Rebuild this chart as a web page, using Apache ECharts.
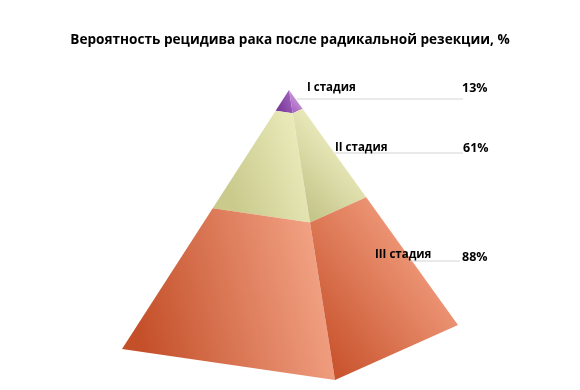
<!DOCTYPE html>
<html>
<head>
<meta charset="utf-8">
<script src="https://cdn.jsdelivr.net/npm/echarts@6/dist/echarts.min.js"></script>
<style>
html,body{margin:0;padding:0;background:#fff;}
#main{width:580px;height:390px;}
</style>
</head>
<body>
<div id="main"></div>
<script>
// ---- data ----
var titleText = 'Вероятность рецидива рака после радикальной резекции, %';
var categories = ['I стадия', 'II стадия', 'III стадия'];
var values = [13, 61, 88];
var valueLabels = ['13%', '61%', '88%'];

// ---- style / layout ----
var leftColors = [['#7e3f9c', '#a868c4'], ['#c9ca8c', '#f1f1c4'], ['#c4502a', '#f8ad90']];
var rightColors = [['#a463c0', '#d6a6e0'], ['#c3c487', '#f8f8d0'], ['#c8522c', '#f9ac8e']];
var apex = [289, 90];
var cornerL = [122, 349];
var cornerF = [335, 380];
var cornerR = [458, 325];
var labelPos = [[307, 88], [335, 148], [375, 255]];
var valuePos = [[462, 88], [463, 148], [462, 257]];
var linePos = [[297, 463, 99], [335, 463, 153], [410, 460, 261]];

var total = values.reduce(function (a, b) { return a + b; }, 0);
var cum = [];
var acc = 0;
values.forEach(function (v) { cum.push([acc / total, (acc + v) / total]); acc += v; });

function pt(corner, t) {
  return [apex[0] + (corner[0] - apex[0]) * t, apex[1] + (corner[1] - apex[1]) * t];
}

var chart = echarts.init(document.getElementById('main'), null, { renderer: 'canvas' });
var option = {
  backgroundColor: '#ffffff',
  animation: false,
  title: {
    text: titleText,
    left: 'center',
    top: 28,
    textStyle: { fontFamily: 'Open Sans', fontWeight: 'bold', fontSize: 13.6, color: '#000' }
  },
  grid: { left: 0, right: 0, top: 0, bottom: 0 },
  xAxis: { type: 'value', min: 0, max: 580, show: false },
  yAxis: { type: 'value', min: 0, max: 390, inverse: true, show: false },
  series: [{
    type: 'custom',
    data: values.map(function (v, i) { return [i, v]; }),
    renderItem: function (params, api) {
      var i = api.value(0);
      var t0 = cum[i][0], t1 = cum[i][1];
      var c = function (p) { return api.coord(p); };
      var leftPoly = [pt(cornerL, t0), pt(cornerF, t0), pt(cornerF, t1), pt(cornerL, t1)].map(c);
      var rightPoly = [pt(cornerF, t0), pt(cornerR, t0), pt(cornerR, t1), pt(cornerF, t1)].map(c);
      var lc = leftColors[i], rc = rightColors[i];
      var lp = labelPos[i], vp = valuePos[i], ln = linePos[i];
      var a = c([ln[0], ln[2]]), b = c([ln[1], ln[2]]);
      var lpp = c(lp), vpp = c(vp);
      return {
        type: 'group',
        children: [
          {
            type: 'polygon',
            shape: { points: leftPoly },
            style: {
              fill: new echarts.graphic.LinearGradient(0, 0.3, 1, 0, [
                { offset: 0, color: lc[0] }, { offset: 1, color: lc[1] }
              ])
            }
          },
          {
            type: 'polygon',
            shape: { points: rightPoly },
            style: {
              fill: new echarts.graphic.LinearGradient(0, 0.8, 1, 0.2, [
                { offset: 0, color: rc[0] }, { offset: 1, color: rc[1] }
              ])
            }
          },
          {
            type: 'line',
            shape: { x1: a[0], y1: a[1], x2: b[0], y2: b[1] },
            style: { stroke: '#d4d4d4', lineWidth: 1 },
            z2: 5
          },
          {
            type: 'text',
            x: lpp[0], y: lpp[1],
            style: {
              text: categories[i], fontFamily: 'Open Sans', fontWeight: 'bold',
              fontSize: 11.5, fill: '#000', verticalAlign: 'middle', align: 'left'
            },
            z2: 10
          },
          {
            type: 'text',
            x: vpp[0], y: vpp[1],
            style: {
              text: valueLabels[i], fontFamily: 'Open Sans', fontWeight: 'bold',
              fontSize: 12.5, fill: '#000', verticalAlign: 'middle', align: 'left'
            },
            z2: 10
          }
        ]
      };
    }
  }]
};
chart.setOption(option);
</script>
</body>
</html>
